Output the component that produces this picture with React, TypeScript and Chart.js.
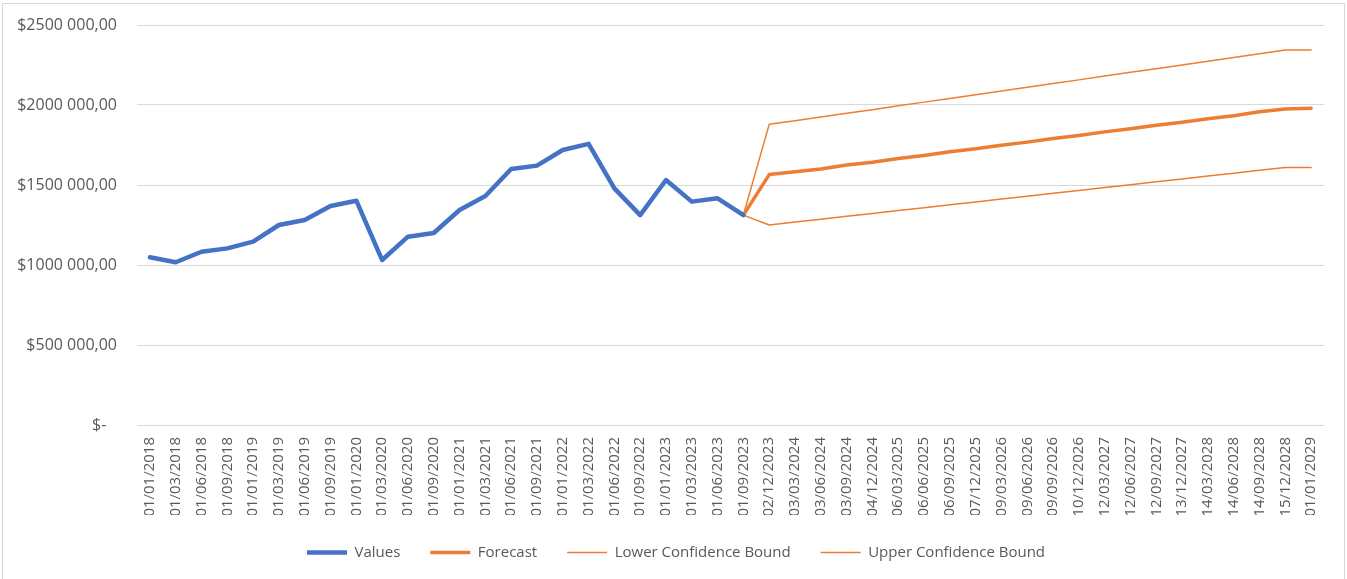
import React, { useEffect, useRef } from 'react';
import { Chart, registerables } from 'chart.js';

Chart.register(...registerables);

const categories = [
  '01/01/2018', '01/03/2018', '01/06/2018', '01/09/2018',
  '01/01/2019', '01/03/2019', '01/06/2019', '01/09/2019',
  '01/01/2020', '01/03/2020', '01/06/2020', '01/09/2020',
  '01/01/2021', '01/03/2021', '01/06/2021', '01/09/2021',
  '01/01/2022', '01/03/2022', '01/06/2022', '01/09/2022',
  '01/01/2023', '01/03/2023', '01/06/2023', '01/09/2023',
  '02/12/2023', '03/03/2024', '03/06/2024', '03/09/2024',
  '04/12/2024', '06/03/2025', '06/06/2025', '06/09/2025',
  '07/12/2025', '09/03/2026', '09/06/2026', '09/09/2026',
  '10/12/2026', '12/03/2027', '12/06/2027', '12/09/2027',
  '13/12/2027', '14/03/2028', '14/06/2028', '14/09/2028',
  '15/12/2028', '01/01/2029',
];

// Historical values (first 24 categories)
const values = [
  1048000, 1017000, 1083000, 1104000,
  1146000, 1250000, 1281000, 1369000,
  1402000, 1031000, 1177000, 1200000,
  1344000, 1431000, 1600000, 1621000,
  1719000, 1757000, 1479000, 1312000,
  1531000, 1396000, 1417000, 1312000,
];

// Forecast series start at category index 23 (01/09/2023)
const forecastStart = 23;
const forecast = [
  1312000, 1565000, 1583000, 1600000, 1625000, 1642000, 1665000, 1684000,
  1708000, 1726000, 1748000, 1768000, 1790000, 1810000, 1832000, 1851000,
  1873000, 1892000, 1914000, 1933000, 1958000, 1975000, 1980000,
];
const lowerBound = [
  1312000, 1250000, 1268000, 1286000, 1304000, 1322000, 1340000, 1358000,
  1376000, 1394000, 1412000, 1430000, 1448000, 1466000, 1484000, 1502000,
  1520000, 1538000, 1556000, 1574000, 1592000, 1610000, 1610000,
];
const upperBound = [
  1312000, 1879000, 1902000, 1925000, 1948000, 1971000, 1995000, 2018000,
  2041000, 2064000, 2088000, 2111000, 2134000, 2157000, 2181000, 2204000,
  2227000, 2250000, 2274000, 2297000, 2320000, 2344000, 2344000,
];

const yTickLabels = [
  '$-\u2002\u2009',
  '$500 000,00',
  '$1000 000,00',
  '$1500 000,00',
  '$2000 000,00',
  '$2500 000,00',
];

const seriesNames = ['Values', 'Forecast', 'Lower Confidence Bound', 'Upper Confidence Bound'];

function padHistory(arr: number[]): (number | null)[] {
  return categories.map((_, i) => (i < arr.length ? arr[i] : null));
}
function padForecast(arr: number[]): (number | null)[] {
  return categories.map((_, i) =>
    i >= forecastStart && i - forecastStart < arr.length ? arr[i - forecastStart] : null
  );
}

const BLUE = '#4472C4';
const ORANGE = '#ED7D31';
const TEXT = '#595959';
const FONT = "'Open Sans', 'Noto Sans', sans-serif";

// Shift the legend block so it is centred on the whole chart box like Excel does
const legendShift = {
  id: 'legendShift',
  afterLayout(chart: any) {
    const lg = chart.legend;
    if (lg) {
      lg.left += 14;
      lg.right += 14;
    }
  },
};

export default function App() {
  const canvasRef = useRef<HTMLCanvasElement | null>(null);

  useEffect(() => {
    if (!canvasRef.current) return;
    const common = {
      pointRadius: 0,
      pointHoverRadius: 0,
      tension: 0,
      borderJoinStyle: 'round' as const,
      borderCapStyle: 'round' as const,
      spanGaps: false,
      fill: false,
    };
    const chart = new Chart(canvasRef.current, {
      type: 'line',
      data: {
        labels: categories,
        datasets: [
          { ...common, label: seriesNames[0], data: padHistory(values), borderColor: BLUE, backgroundColor: BLUE, borderWidth: 4.5 },
          { ...common, label: seriesNames[1], data: padForecast(forecast), borderColor: ORANGE, backgroundColor: ORANGE, borderWidth: 3.5 },
          { ...common, label: seriesNames[2], data: padForecast(lowerBound), borderColor: ORANGE, backgroundColor: ORANGE, borderWidth: 1.5 },
          { ...common, label: seriesNames[3], data: padForecast(upperBound), borderColor: ORANGE, backgroundColor: ORANGE, borderWidth: 1.5 },
        ],
      },
      plugins: [legendShift],
      options: {
        responsive: false,
        animation: false,
        events: [],
        layout: { padding: { left: 0, right: 23, top: 25, bottom: 0 } },
        plugins: {
          tooltip: { enabled: false },
          legend: {
            position: 'bottom',
            labels: {
              usePointStyle: true,
              pointStyle: 'line',
              pointStyleWidth: 40,
              padding: 30,
              color: TEXT,
              font: { family: FONT, size: 15 },
            },
          },
        },
        scales: {
          x: {
            type: 'category',
            offset: true,
            grid: { display: false, drawTicks: false },
            border: { display: false },
            ticks: {
              autoSkip: false,
              minRotation: 90,
              maxRotation: 90,
              padding: 12,
              color: TEXT,
              font: { family: FONT, size: 15 },
            },
            afterFit: (s: any) => {
              s.height = 90;
            },
          },
          y: {
            min: 0,
            max: 2500000,
            grid: {
              color: '#d9d9d9',
              lineWidth: 1,
              drawTicks: true,
              tickLength: 20,
              tickColor: 'rgba(0,0,0,0)',
            },
            border: { display: false },
            ticks: {
              stepSize: 500000,
              padding: 0,
              color: TEXT,
              font: { family: FONT, size: 16 },
              callback: (v: any) => yTickLabels[Math.round(Number(v) / 500000)] ?? '',
            },
            afterFit: (s: any) => {
              s.width = 137;
            },
          },
        },
      },
    });
    return () => chart.destroy();
  }, []);

  return (
    <div style={{ position: 'absolute', left: 0, top: 0, width: 1347, height: 579, overflow: 'hidden', background: '#fff' }}>
      <canvas ref={canvasRef} width={1347} height={570} style={{ position: 'absolute', left: 0, top: 0, display: 'block' }} />
      <div
        style={{
          position: 'absolute',
          left: 2,
          top: 3,
          width: 1343,
          height: 576,
          boxSizing: 'border-box',
          border: '1px solid #d9d9d9',
          borderBottom: 'none',
          pointerEvents: 'none',
        }}
      />
    </div>
  );
}
